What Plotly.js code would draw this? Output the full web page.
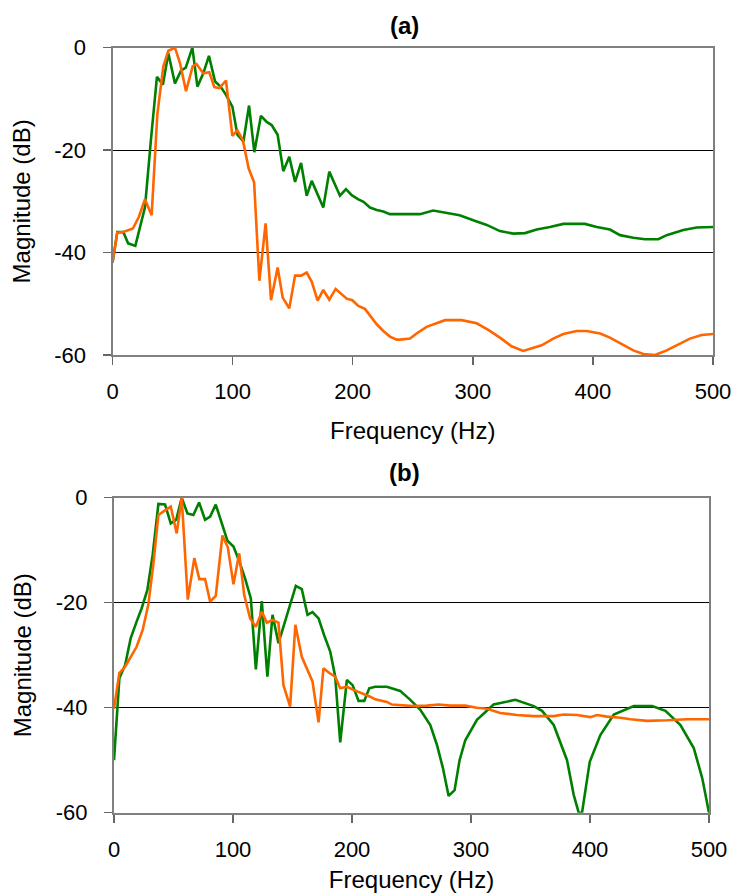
<!DOCTYPE html>
<html>
<head>
<meta charset="utf-8">
<script src="https://cdn.plot.ly/plotly-3.0.1.min.js"></script>
<style>
html,body{margin:0;padding:0;background:#ffffff;}
#chart{width:735px;height:895px;}
</style>
</head>
<body>
<div id="chart"></div>
<script>
// ---------- Panel (a) ----------
const freqA_green = [0,4,9,13,19,23,27,32,37,42,46.5,52,57,61,66.5,70.7,75.6,80.3,85.4,90,94.5,99.8,104,109,113.7,118.1,123.6,128.4,132.5,137.5,142.2,147.2,152,157,161.7,165.9,170.5,175.5,180.5,185,189.4,194.4,199.2,204.7,209,214.4,220,225.5,231,239.5,256,267,278,289,300.4,311.6,322.6,333.7,343.5,353.2,364.3,375.4,393.4,403.2,414.2,422.6,433.6,443.4,454.5,461.4,475.3,486.4,500];
const magA_green  = [-42,-36,-36,-38.2,-38.7,-35,-31.2,-18,-5.7,-7.2,-1.1,-7.0,-4.5,-3.9,0,-7.6,-5.0,-1.6,-6.6,-7.6,-9.2,-11.5,-17,-18.3,-11.3,-20.4,-13.3,-14.5,-15.1,-17,-24.1,-21.3,-26.2,-22.5,-28.9,-26,-28.4,-31.2,-24.2,-26.5,-28.9,-27.6,-28.8,-29.6,-30.1,-31.2,-31.7,-32,-32.5,-32.5,-32.5,-31.8,-32.2,-32.7,-33.7,-34.6,-35.8,-36.3,-36.2,-35.5,-35.0,-34.4,-34.4,-35.0,-35.5,-36.6,-37.1,-37.4,-37.4,-36.6,-35.6,-35.1,-35.0];

const freqA_orange = [0,4,9,17,22,27,32.6,37.3,42.3,46.5,52,56.2,61.2,66.8,70,75.6,80.6,84.8,89,94.5,99.8,104,108.5,113.4,117.9,122.3,127.5,132,137.5,141.7,147.2,152,157,161.7,165.9,170.8,175.5,180.5,185.8,190.2,195,199.7,204.7,210.2,214.4,220,225.5,231,236.6,239.4,247.7,253.2,261.5,267,276.9,290.7,303.2,312.9,322.6,332.3,342,357.3,367,375.4,386.5,394.8,406,414.2,424,433.6,442,451.7,461.4,472.5,480.8,490.5,500];
const magA_orange  = [-42,-36.1,-36,-35.3,-33,-29.6,-32.7,-13.1,-3.7,-0.6,0,-3,-8.5,-3.6,-3.2,-5,-4.8,-7.7,-7.9,-6.4,-17.2,-16.1,-18,-23.6,-26.3,-45.5,-34.3,-49.3,-42.9,-48.8,-50.9,-44.5,-44.5,-43.9,-45.7,-49.4,-47.3,-49.2,-47.1,-48,-49,-49.3,-50.4,-51,-52.2,-54,-55.3,-56.4,-57,-57,-56.8,-55.8,-54.5,-54,-53.2,-53.2,-53.8,-55.1,-56.6,-58.3,-59.2,-58.1,-56.8,-55.9,-55.3,-55.3,-55.8,-56.6,-57.9,-59.1,-59.8,-60,-59.1,-57.8,-56.8,-56.1,-55.9];

// ---------- Panel (b) ----------
const freqB_green = [0,4.5,9.3,14,19,23.2,28,32.5,37.3,42.9,47.7,52.3,56.9,61.7,66.7,71.5,76.5,80.8,85.5,90.6,95.3,100.4,105.4,110.2,115,119.2,124.2,128.9,133.2,138.2,142.9,148,152.8,157.8,162.6,166.8,171.9,176.6,181.7,185.9,190.1,195.7,200.5,205.5,210.3,214.5,219.5,229.3,240.5,249,257.4,265.8,271.4,276.4,281.2,286.2,290.4,295.2,305,319,337.3,352.7,359.7,369.5,380.7,386.3,390.5,393.3,399.8,408.7,420,436.8,452.2,463.4,476,487.2,494.3,500];
const magB_green  = [-50,-34.4,-31.9,-26.8,-23.6,-21.1,-17.6,-10.9,-1.2,-1.3,-4.9,-4.2,0,-3.0,-3.3,-0.9,-4.2,-3.6,-1.3,-4.7,-8.2,-9.3,-12.2,-15.4,-19.2,-32.7,-19.7,-34.1,-22.3,-27.7,-24.2,-20.8,-16.8,-17.4,-22.3,-21.8,-23,-26.2,-29.3,-34.1,-46.6,-34.7,-35.7,-38.7,-38.7,-36.3,-36,-36,-36.8,-38.5,-40.4,-43.3,-47.1,-51.5,-56.8,-55.7,-50,-46.2,-42.3,-39.4,-38.5,-39.7,-40.6,-43.3,-50,-56.6,-60,-60,-50.3,-45.2,-41.3,-39.7,-39.7,-40.6,-43.3,-47.7,-53.4,-60];

const freqB_orange = [0,4.5,9.3,14,19,24.1,28.8,33,37.3,42.3,47.7,52.7,56.9,62,67.5,71.7,76.5,80.8,85.5,91.1,95.6,100.4,105.2,109.4,114.4,119.2,124.2,128.4,133.2,138.2,142.4,148,152.4,157.8,162,166.8,171.9,176,181,185.9,190.1,195.7,201.3,206,211.1,215.3,219.5,229.3,233.5,240.5,251.7,262.9,272.8,282.6,295.2,305,313.4,324.6,338.6,352.7,369.5,377.9,389.1,400.3,405.9,414.3,425.5,434,448,464.8,481.6,500];
const magB_orange  = [-40.2,-33.4,-32.2,-30.3,-28.4,-25.2,-20.4,-12.8,-3.3,-2.5,-1.7,-6.8,0,-19.4,-11.5,-15.5,-15.5,-19.8,-18.7,-7.2,-9.4,-16.5,-10.6,-18.5,-23,-24.6,-21.7,-23.8,-23.3,-23.8,-35.7,-39.8,-24.2,-30.3,-32.5,-35,-42.8,-32.5,-33.4,-34.1,-36.3,-36,-36.6,-37,-37.4,-37.9,-38.4,-38.9,-39.4,-39.5,-39.7,-39.6,-39.4,-39.6,-39.6,-40,-40.2,-41,-41.4,-41.6,-41.6,-41.3,-41.4,-41.8,-41.4,-41.7,-41.9,-42.2,-42.5,-42.4,-42.2,-42.2];

// ---------- Tick labels / titles ----------
const xTickVals = [0,100,200,300,400,500];
const xTickText = ['0','100','200','300','400','500'];
const yTickVals = [0,-20,-40,-60];
const yTickText = ['0','-20','-40','-60'];
const panelTitles = ['(a)','(b)'];
const xTitle = 'Frequency (Hz)';
const yTitle = 'Magnitude (dB)';

const GREEN = '#008000';
const ORANGE = '#FF6600';
const FONT = 'Arial, "Liberation Sans", sans-serif';

const W = 735, H = 895;
function px2x(p){ return p / W; }
function px2y(p){ return 1 - p / H; }

function xAxis(domain, anchor, titleStandoff){
  return {
    domain: domain, anchor: anchor, range: [0,500],
    tickmode: 'array', tickvals: xTickVals, ticktext: xTickText,
    ticks: 'outside', ticklen: 8, tickwidth: 1.5, tickcolor: '#666',
    ticklabelstandoff: 8,
    showline: true, linecolor: '#808080', linewidth: 2, mirror: true,
    showgrid: false, zeroline: false,
    tickfont: {family: FONT, size: 22, color: '#000'},
    title: {text: xTitle, font: {family: FONT, size: 24, color: '#000'}, standoff: titleStandoff},
    fixedrange: true
  };
}
function yAxis(domain, anchor){
  return {
    domain: domain, anchor: anchor, range: [-60,0],
    tickmode: 'array', tickvals: yTickVals, ticktext: yTickText,
    ticks: 'outside', ticklen: 8, tickwidth: 1.5, tickcolor: '#666',
    ticklabelstandoff: 12,
    showline: true, linecolor: '#808080', linewidth: 2, mirror: true,
    showgrid: true, gridcolor: '#000000', gridwidth: 1,
    zeroline: false,
    tickfont: {family: FONT, size: 22, color: '#000'},
    title: {text: yTitle, font: {family: FONT, size: 24, color: '#000'}, standoff: 17},
    fixedrange: true
  };
}

const lineW = 2.6;
const traces = [
  {x: freqA_green, y: magA_green, xaxis: 'x', yaxis: 'y', mode: 'lines', line: {color: GREEN, width: lineW}, showlegend: false},
  {x: freqA_orange, y: magA_orange, xaxis: 'x', yaxis: 'y', mode: 'lines', line: {color: ORANGE, width: lineW}, showlegend: false},
  {x: freqB_green, y: magB_green, xaxis: 'x2', yaxis: 'y2', mode: 'lines', line: {color: GREEN, width: lineW}, showlegend: false},
  {x: freqB_orange, y: magB_orange, xaxis: 'x2', yaxis: 'y2', mode: 'lines', line: {color: ORANGE, width: lineW}, showlegend: false}
];

const layout = {
  width: W, height: H,
  margin: {l: 0, r: 0, t: 0, b: 0},
  paper_bgcolor: '#ffffff', plot_bgcolor: '#ffffff',
  font: {family: FONT, color: '#000'},
  showlegend: false,
  xaxis: xAxis([px2x(112.5), px2x(713)], 'y', 19),
  yaxis: yAxis([px2y(355), px2y(47.7)], 'x'),
  xaxis2: xAxis([px2x(114), px2x(709)], 'y2', 10),
  yaxis2: yAxis([px2y(812.7), px2y(497.7)], 'x2'),
  annotations: [
    {text: '<b>' + panelTitles[0] + '</b>', xref: 'paper', yref: 'paper', x: px2x(405), y: px2y(26), xanchor: 'center', yanchor: 'middle', showarrow: false, font: {family: FONT, size: 24, color: '#000'}},
    {text: '<b>' + panelTitles[1] + '</b>', xref: 'paper', yref: 'paper', x: px2x(405), y: px2y(472), xanchor: 'center', yanchor: 'middle', showarrow: false, font: {family: FONT, size: 24, color: '#000'}}
  ]
};

Plotly.newPlot('chart', traces, layout, {displayModeBar: false, staticPlot: true});
</script>
</body>
</html>
